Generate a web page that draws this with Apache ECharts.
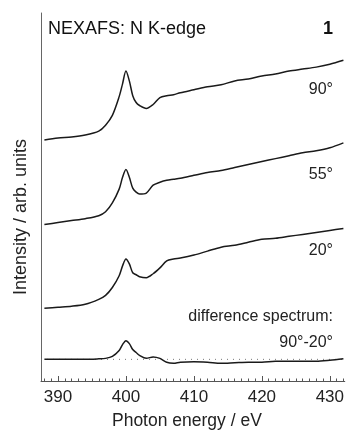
<!DOCTYPE html>
<html>
<head>
<meta charset="utf-8">
<script src="https://cdn.jsdelivr.net/npm/echarts@6/dist/echarts.min.js"></script>
<style>
html,body{margin:0;padding:0;background:#fff;}
#chart{width:347px;height:435px;}
</style>
</head>
<body>
<div id="chart"></div>
<script>
// Photon energy grid (eV)
const energy = [388, 390, 392, 394, 396, 397, 398, 399, 399.5, 400, 400.5, 401, 401.5, 402, 403, 404, 405, 406, 407, 408, 410, 412, 414, 416, 418, 420, 422, 424, 426, 428, 430, 432];
// Intensities (arb. units, offset stacked)
const spec90 = [245, 247, 248, 250, 254, 260, 270, 289, 302, 315, 305, 290, 283, 280, 277, 281, 288, 290, 291, 293, 296, 299, 301, 305, 307, 310, 312, 315, 317, 319, 322, 326];
const spec55 = [159, 161, 163, 165, 168, 172, 181, 195, 207, 215, 207, 196, 192, 190, 191, 199, 202, 204, 205, 206, 209, 212, 214, 217, 220, 223, 226, 229, 232, 234, 237, 242];
const spec20 = [74, 75, 76, 78, 83, 87, 95, 107, 117, 124, 119, 110, 108, 106, 105, 109, 115, 122, 124, 125, 128, 132, 136, 138, 141, 144, 145, 147, 149, 151, 153, 155];
const specDiff = [22, 22, 22, 22, 22.5, 23, 25, 31, 37, 41, 38, 32, 29, 26, 23, 24.5, 23, 19, 18, 19, 19.5, 19, 18, 18.5, 19, 19, 20, 20, 20, 20, 21, 22.5];
const diffBaseline = 22;
const majorTicks = [390, 400, 410, 420, 430];
const minorTicks = [388,389,391,392,393,394,395,396,397,398,399,401,402,403,404,405,406,407,408,409,411,412,413,414,415,416,417,418,419,421,422,423,424,425,426,427,428,429,431,432];
const xMin = 387.5, xMax = 432.2;

const FONT = '"Liberation Sans", Arial, Helvetica, sans-serif';
const pairs = arr => energy.map((e, i) => [e, arr[i]]);
const curve = arr => ({
  type: 'line', data: pairs(arr), showSymbol: false, smooth: 0.3,
  lineStyle: { color: '#1a1a1a', width: 1.5 }, silent: true, animation: false
});

const chart = echarts.init(document.getElementById('chart'));
chart.setOption({
  animation: false,
  backgroundColor: '#fff',
  grid: { left: 41, right: 0, top: 13, bottom: 48 },
  xAxis: [
    {
      type: 'value', min: xMin, max: xMax, position: 'bottom',
      axisLine: { show: true, lineStyle: { color: '#555', width: 1 } },
      axisTick: { show: true, inside: true, length: 5, customValues: majorTicks, lineStyle: { color: '#555' } },
      axisLabel: { customValues: majorTicks, margin: 8, fontSize: 17, color: '#222', fontFamily: FONT },
      splitLine: { show: false },
      name: 'Photon energy / eV', nameLocation: 'middle', nameGap: 31,
      nameTextStyle: { fontSize: 17.5, color: '#222', fontFamily: FONT, padding: [0, 12, 0, 0] }
    },
    {
      type: 'value', min: xMin, max: xMax, position: 'bottom',
      axisLine: { show: false },
      axisTick: { show: true, inside: true, length: 2.5, customValues: minorTicks, lineStyle: { color: '#555' } },
      axisLabel: { show: false },
      splitLine: { show: false }
    }
  ],
  yAxis: {
    type: 'value', min: 0, max: 374,
    axisLine: { show: true, lineStyle: { color: '#666', width: 1 } },
    axisTick: { show: false }, axisLabel: { show: false }, splitLine: { show: false }
  },
  series: [
    {
      type: 'line', data: [[xMin, diffBaseline], [xMax, diffBaseline]], showSymbol: false,
      lineStyle: { color: '#777', width: 1, type: [1, 5] }, silent: true
    },
    curve(spec90), curve(spec55), curve(spec20), curve(specDiff)
  ],
  graphic: [
    { type: 'text', x: 48, y: 29, style: { text: 'NEXAFS: N K-edge', fontSize: 18, fontFamily: FONT, fill: '#111', align: 'left', verticalAlign: 'middle' } },
    { type: 'text', x: 333, y: 29, style: { text: '1', fontSize: 18, fontWeight: 'bold', fontFamily: FONT, fill: '#111', align: 'right', verticalAlign: 'middle' } },
    { type: 'text', x: 333, y: 90, style: { text: '90°', fontSize: 16, fontFamily: FONT, fill: '#222', align: 'right', verticalAlign: 'middle' } },
    { type: 'text', x: 333, y: 175, style: { text: '55°', fontSize: 16, fontFamily: FONT, fill: '#222', align: 'right', verticalAlign: 'middle' } },
    { type: 'text', x: 333, y: 251, style: { text: '20°', fontSize: 16, fontFamily: FONT, fill: '#222', align: 'right', verticalAlign: 'middle' } },
    { type: 'text', x: 333, y: 317, style: { text: 'difference spectrum:', fontSize: 16, fontFamily: FONT, fill: '#222', align: 'right', verticalAlign: 'middle' } },
    { type: 'text', x: 333, y: 343, style: { text: '90°-20°', fontSize: 16, fontFamily: FONT, fill: '#222', align: 'right', verticalAlign: 'middle' } },
    { type: 'text', x: 21, y: 217, rotation: Math.PI / 2, style: { text: 'Intensity / arb. units', fontSize: 18, fontFamily: FONT, fill: '#222', align: 'center', verticalAlign: 'middle' } }
  ]
});
</script>
</body>
</html>
